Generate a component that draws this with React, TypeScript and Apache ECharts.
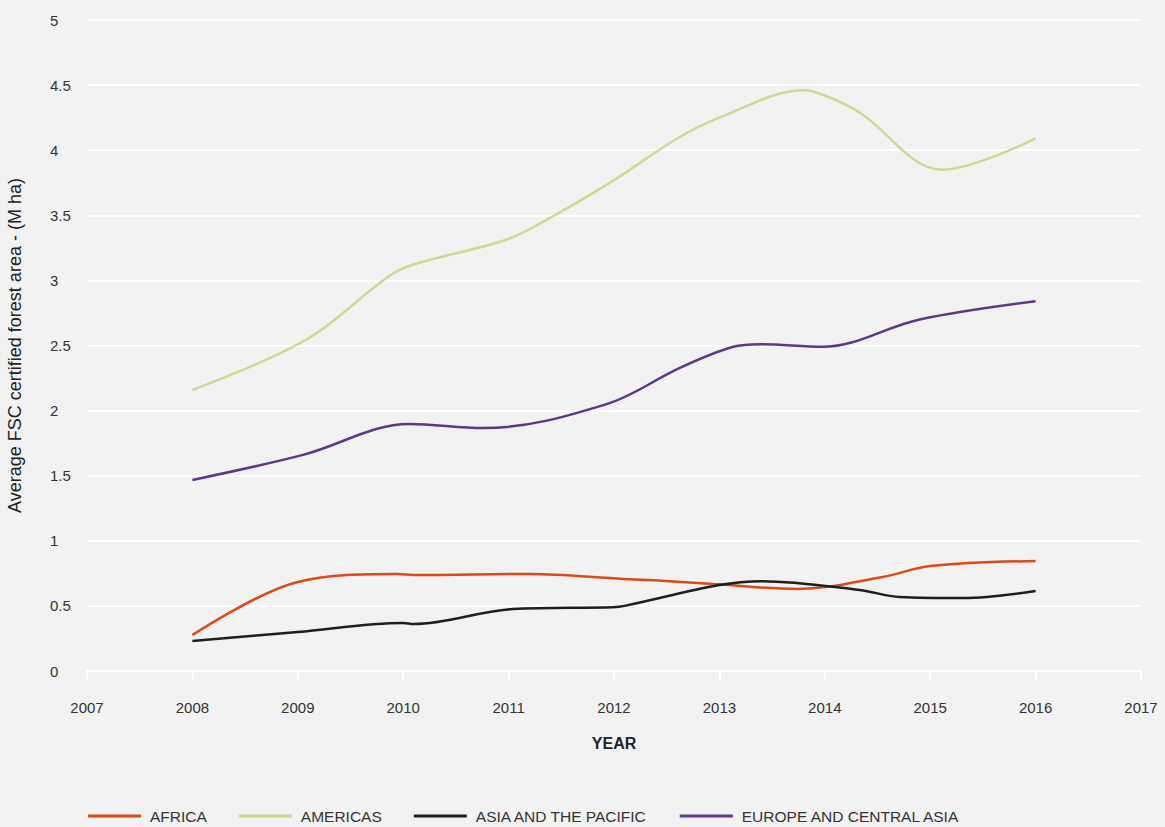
import React, { useEffect, useRef } from "react";
import * as echarts from "echarts";

const seriesNames = ["AFRICA", "AMERICAS", "ASIA AND THE PACIFIC", "EUROPE AND CENTRAL ASIA"];
const seriesColors = ["#dd4b14", "#c6dc8e", "#1e1e1e", "#5e3787"];

const africa: [number, number][] = [
  [2008, 0.276], [2009, 0.684], [2009.94, 0.745], [2010.13, 0.737], [2011.2, 0.745],
  [2012.09, 0.707], [2012.34, 0.699], [2012.94, 0.668], [2013.74, 0.63],
  [2014.55, 0.722], [2015, 0.806], [2016, 0.845],
];
const americas: [number, number][] = [
  [2008, 2.158], [2009.07, 2.54], [2009.86, 3.03], [2010.09, 3.12], [2010.97, 3.31],
  [2011.35, 3.46], [2012, 3.77], [2012.6, 4.09], [2013, 4.25], [2013.8, 4.46],
  [2014, 4.42], [2014.33, 4.29], [2015.11, 3.85], [2016, 4.09],
];
const asiaPacific: [number, number][] = [
  [2008, 0.23], [2009, 0.3], [2010, 0.369], [2010.1, 0.361], [2011.04, 0.476],
  [2011.99, 0.49], [2012.1, 0.5], [2013, 0.66], [2013.4, 0.69], [2014.33, 0.622],
  [2014.71, 0.568], [2015.31, 0.56], [2016, 0.614],
];
const europe: [number, number][] = [
  [2008, 1.467], [2009.05, 1.66], [2010.06, 1.897], [2010.76, 1.866], [2011.93, 2.05],
  [2012.63, 2.33], [2013.13, 2.49], [2013.39, 2.51], [2013.98, 2.49], [2014.9, 2.7],
  [2016, 2.84],
];
const allData = [africa, americas, asiaPacific, europe];

const FONT = "'Liberation Sans', Arial, Helvetica, sans-serif";

export default function App() {
  const ref = useRef<HTMLDivElement>(null);
  useEffect(() => {
    document.body.style.margin = "0";
    document.body.style.background = "#f2f2f2";
    const chart = echarts.init(ref.current!, null, { renderer: "svg" });
    chart.setOption({
      animation: false,
      backgroundColor: "#f2f2f2",
      textStyle: { fontFamily: FONT },
      grid: { left: 87, right: 24, top: 20, bottom: 156, outerBoundsMode: "none", containLabel: false },
      legend: {
        left: 88,
        top: 808,
        padding: 0,
        itemWidth: 53,
        itemHeight: 3,
        itemGap: 32,
        icon: "rect",
        textStyle: { fontSize: 15.5, color: "#333", fontFamily: FONT, padding: [0, 0, 0, 4] },
        data: seriesNames,
      },
      xAxis: {
        type: "value",
        min: 2007,
        max: 2017,
        interval: 1,
        name: "YEAR",
        nameLocation: "middle",
        nameGap: 64,
        nameTextStyle: { fontSize: 16, fontWeight: "bold", color: "#222", fontFamily: FONT },
        axisLine: { show: true, lineStyle: { color: "#ffffff", width: 2 } },
        axisTick: { show: true, length: 10, lineStyle: { color: "#ffffff", width: 2 } },
        axisLabel: {
          margin: 29,
          fontSize: 15,
          color: "#333",
          fontFamily: FONT,
          formatter: (v: number) => String(v),
        },
        splitLine: { show: false },
      },
      yAxis: {
        type: "value",
        min: 0,
        max: 5,
        interval: 0.5,
        name: "Average FSC certified forest area - (M ha)",
        nameLocation: "middle",
        nameGap: 63,
        nameTextStyle: { fontSize: 18, color: "#222", fontFamily: FONT },
        axisLine: { show: false },
        axisTick: { show: false },
        axisLabel: { align: "left", margin: 37, fontSize: 15, color: "#333", fontFamily: FONT },
        splitLine: { show: true, lineStyle: { color: "#ffffff", width: 2 } },
      },
      series: seriesNames.map((name, i) => ({
        name,
        type: "line",
        data: allData[i],
        smooth: 0.35,
        showSymbol: false,
        symbol: "none",
        color: seriesColors[i],
        lineStyle: { color: seriesColors[i], width: 2.5 },
      })),
    });
    return () => chart.dispose();
  }, []);
  return <div ref={ref} style={{ width: 1165, height: 827 }} />;
}
